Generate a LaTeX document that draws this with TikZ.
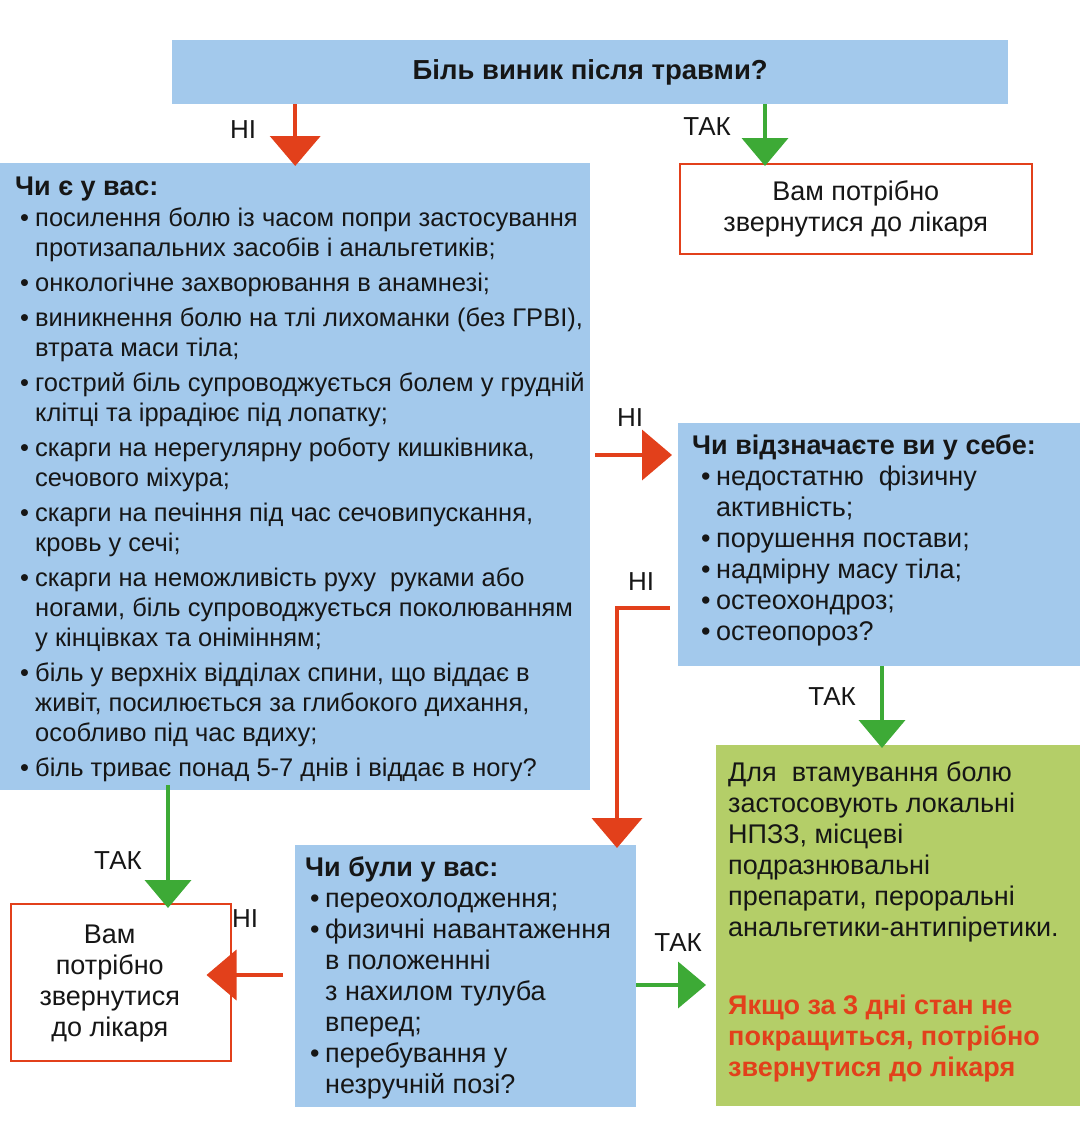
\documentclass[tikz,border=0pt]{standalone}
\usepackage{fontspec}
\setmainfont{Liberation Sans}
\usetikzlibrary{arrows.meta,calc}
\definecolor{boxblue}{HTML}{A3C9EC}
\definecolor{arred}{HTML}{E2401B}
\definecolor{argreen}{HTML}{3DAA36}
\definecolor{boxgreen}{HTML}{B4CE68}
\definecolor{txt}{HTML}{161616}
\newcommand{\itb}{\makebox[15pt][l]{\textbullet}}
\newcommand{\cnt}{\hspace*{15pt}}
\begin{document}
\begin{tikzpicture}[x=1pt,y=-1pt,
  bluebox/.style={fill=boxblue,draw=none,inner sep=0pt,anchor=north west},
  docbox/.style={fill=white,draw=arred,line width=1.5pt,inner sep=0pt,anchor=north west,align=center,text=txt,font=\fontsize{27}{31}\selectfont},
  greenbox/.style={fill=boxgreen,draw=none,inner sep=0pt,anchor=north west},
  bodytxt/.style={anchor=north west,inner sep=0pt,align=left,text=txt},
  lbl/.style={text=txt,font=\fontsize{26}{28}\selectfont,inner sep=0pt},
  redarr/.style={draw=arred,line width=4pt,-{Triangle[width=50pt,length=30pt]}},
  greenarr/.style={draw=argreen,line width=4pt,-{Triangle[width=46pt,length=28pt]}},
  redline/.style={draw=arred,line width=4pt}]
\path[use as bounding box] (0,0) rectangle (1080,1122);

% boxes
\node[bluebox,minimum width=836pt,minimum height=64pt,text=txt,font=\bfseries\fontsize{27.5}{30}\selectfont] (top) at (172,40) {Біль виник після травми?};
\node[docbox,minimum width=352pt,minimum height=90pt] (doc1) at (679,163) {Вам потрібно\\звернутися до лікаря};
\node[bluebox,minimum width=590pt,minimum height=627pt] (big) at (0,163) {};
\node[bluebox,minimum width=402pt,minimum height=243pt] (q2) at (678,423) {};
\node[greenbox,minimum width=364pt,minimum height=361pt] (rec) at (716,745) {};
\node[bluebox,minimum width=341pt,minimum height=262pt] (q3) at (295,845) {};
\node[docbox,minimum width=220pt,minimum height=157pt] (doc2) at (10,903) {};
\node[text=txt,align=center,font=\fontsize{27}{31}\selectfont,inner sep=0pt] (doc2txt) at ([xshift=-11pt,yshift=-1pt]doc2.center) {Вам\\потрібно\\звернутися\\до лікаря};

% texts
\node[bodytxt,font=\fontsize{25.5}{30}\selectfont] (bigtxt) at (15,177) {%
{\fontsize{27}{30}\selectfont\textbf{Чи є у вас:}}\\[1pt]
\hspace*{5pt}\itb посилення болю із часом попри застосування\\
\hspace*{5pt}\cnt протизапальних засобів і анальгетиків;\\[5pt]
\hspace*{5pt}\itb онкологічне захворювання в анамнезі;\\[5pt]
\hspace*{5pt}\itb виникнення болю на тлі лихоманки (без ГРВІ),\\
\hspace*{5pt}\cnt втрата маси тіла;\\[5pt]
\hspace*{5pt}\itb гострий біль супроводжується болем у грудній\\
\hspace*{5pt}\cnt клітці та іррадіює під лопатку;\\[5pt]
\hspace*{5pt}\itb скарги на нерегулярну роботу кишківника,\\
\hspace*{5pt}\cnt сечового міхура;\\[5pt]
\hspace*{5pt}\itb скарги на печіння під час сечовипускання,\\
\hspace*{5pt}\cnt кровь у сечі;\\[5pt]
\hspace*{5pt}\itb скарги на неможливість руху \ руками або\\
\hspace*{5pt}\cnt ногами, біль супроводжується поколюванням\\
\hspace*{5pt}\cnt у кінцівках та онімінням;\\[5pt]
\hspace*{5pt}\itb біль у верхніх відділах спини, що віддає в\\
\hspace*{5pt}\cnt живіт, посилюється за глибокого дихання,\\
\hspace*{5pt}\cnt особливо під час вдиху;\\[5pt]
\hspace*{5pt}\itb біль триває понад 5-7 днів і віддає в ногу?};

\node[bodytxt,font=\fontsize{27}{31}\selectfont] (q2txt) at (692,434) {%
\textbf{Чи відзначаєте ви у себе:}\\
\hspace*{9pt}\itb недостатню \ фізичну\\
\hspace*{9pt}\cnt активність;\\
\hspace*{9pt}\itb порушення постави;\\
\hspace*{9pt}\itb надмірну масу тіла;\\
\hspace*{9pt}\itb остеохондроз;\\
\hspace*{9pt}\itb остеопороз?};

\node[bodytxt,font=\fontsize{27}{31}\selectfont] (q3txt) at (305,856) {%
\textbf{Чи були у вас:}\\
\hspace*{5pt}\itb переохолодження;\\
\hspace*{5pt}\itb физичні навантаження\\
\hspace*{5pt}\cnt в положеннні\\
\hspace*{5pt}\cnt з нахилом тулуба\\
\hspace*{5pt}\cnt вперед;\\
\hspace*{5pt}\itb перебування у\\
\hspace*{5pt}\cnt незручній позі?};

\node[bodytxt,font=\fontsize{27}{31}\selectfont] (rectxt) at (728,761) {%
Для \ втамування болю\\
застосовують локальні\\
НПЗЗ, місцеві\\
подразнювальні\\
препарати, пероральні\\
анальгетики-антипіретики.\\[47pt]
\textcolor{arred}{\textbf{Якщо за 3 дні стан не}}\\
\textcolor{arred}{\textbf{покращиться, потрібно}}\\
\textcolor{arred}{\textbf{звернутися до лікаря}}};

% labels
\node[lbl] (l1) at (243,130) {НІ};
\node[lbl] (l2) at (707,127) {ТАК};
\node[lbl] (l3) at (630,418) {НІ};
\node[lbl] (l4) at (641,582) {НІ};
\node[lbl] (l5) at (832,697) {ТАК};
\node[lbl] (l6) at (118,861) {ТАК};
\node[lbl] (l7) at (245,919) {НІ};
\node[lbl] (l8) at (678,943) {ТАК};

% connector coordinates
\coordinate (c1) at (765,0);
\coordinate (c2) at (0,455);
\coordinate (c3) at (0,608);
\coordinate (c4) at (617,0);
\coordinate (c5) at (882,0);
\coordinate (c6) at (168,0);
\coordinate (c7) at (0,975);
\coordinate (c8) at (0,985);

% connectors
\draw[redarr] (top.south -| big.north) -- ([yshift=-3pt]big.north);
\draw[greenarr] (top.south -| c1) -- ([yshift=-3pt]doc1.north -| c1);
\draw[redarr] ([xshift=5pt]big.east |- c2) -- ([xshift=-6pt]q2.west |- c2);
\draw[redline] ([xshift=-8pt]q2.west |- c3) -- (c3 -| c4);
\draw[redarr] ([yshift=2pt]c3 -| c4) -- ([yshift=-3pt]q3.north -| c4);
\draw[greenarr] (q2.south -| c5) -- ([yshift=-3pt]rec.north -| c5);
\draw[greenarr] ([yshift=5pt]big.south -| c6) -- ([yshift=-5pt]doc2.north -| c6);
\draw[redarr] ([xshift=-12pt]q3.west |- c7) -- ([xshift=-25pt]doc2.east |- c7);
\draw[greenarr] (q3.east |- c8) -- ([xshift=-10pt]rec.west |- c8);
\end{tikzpicture}
\end{document}
